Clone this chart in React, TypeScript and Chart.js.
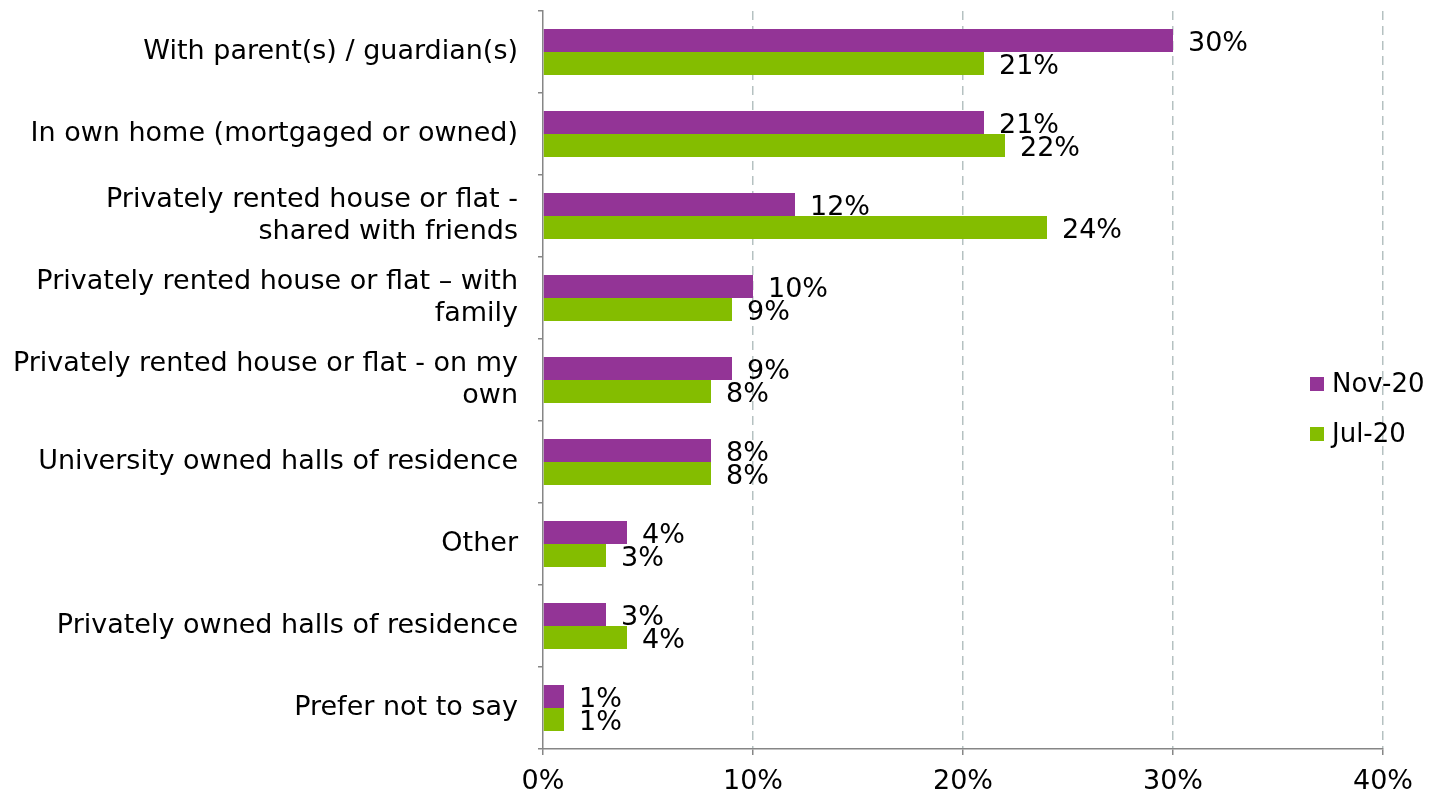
import React, { useEffect, useRef } from "react";
import { Chart, registerables } from "chart.js";

Chart.register(...registerables);

const categories: (string | string[])[] = [
  "With parent(s) / guardian(s)",
  "In own home (mortgaged or owned)",
  ["Privately rented house or flat -", "shared with friends"],
  ["Privately rented house or flat – with", "family"],
  ["Privately rented house or flat - on my", "own"],
  "University owned halls of residence",
  "Other",
  "Privately owned halls of residence",
  "Prefer not to say",
];
const nov20 = [30, 21, 12, 10, 9, 8, 4, 3, 1];
const jul20 = [21, 22, 24, 9, 8, 8, 3, 4, 1];
const seriesNames = ["Nov-20", "Jul-20"];
const seriesColors = ["#933496", "#84bd00"];
const xTicks = [0, 10, 20, 30, 40];

const FONT = "'DejaVu Sans', Verdana, sans-serif";

const valueLabels = {
  id: "valueLabels",
  afterDatasetsDraw(chart: any) {
    const ctx = chart.ctx;
    ctx.save();
    ctx.font = `27px ${FONT}`;
    ctx.fillStyle = "#000";
    ctx.textAlign = "left";
    ctx.textBaseline = "middle";
    chart.data.datasets.forEach((ds: any, di: number) => {
      const meta = chart.getDatasetMeta(di);
      meta.data.forEach((el: any, i: number) => {
        ctx.fillText(ds.data[i] + "%", el.x + 15, el.y + 3);
      });
    });
    ctx.restore();
  },
};

const sideLegend = {
  id: "sideLegend",
  afterDraw(chart: any) {
    const ctx = chart.ctx;
    const ca = chart.chartArea;
    const mid = (ca.top + ca.bottom) / 2;
    const x = ca.right - 73;
    ctx.save();
    ctx.font = `26px ${FONT}`;
    ctx.textAlign = "left";
    ctx.textBaseline = "middle";
    seriesNames.forEach((name, i) => {
      const cy = mid + 4 + i * 50;
      ctx.fillStyle = seriesColors[i];
      ctx.fillRect(x, cy - 7, 14, 14);
      ctx.fillStyle = "#000";
      ctx.fillText(name, x + 22, cy + 1);
    });
    ctx.restore();
  },
};

export default function App() {
  const ref = useRef<HTMLCanvasElement | null>(null);
  useEffect(() => {
    document.body.style.margin = "0";
    if (!ref.current) return;
    const chart = new Chart(ref.current, {
      type: "bar",
      data: {
        labels: categories,
        datasets: [
          { label: seriesNames[0], data: nov20, backgroundColor: seriesColors[0], categoryPercentage: 0.561, barPercentage: 1 },
          { label: seriesNames[1], data: jul20, backgroundColor: seriesColors[1], categoryPercentage: 0.561, barPercentage: 1 },
        ],
      },
      options: {
        indexAxis: "y",
        animation: false,
        responsive: false,
        maintainAspectRatio: false,
        layout: { padding: { top: 11, right: 49, left: 0, bottom: 0 } },
        plugins: { legend: { display: false }, tooltip: { enabled: false } },
        scales: {
          x: {
            min: 0,
            max: 40,
            afterBuildTicks: (s: any) => {
              s.ticks = xTicks.map((v) => ({ value: v }));
            },
            afterFit: (s: any) => {
              s.height = 54;
              s.paddingLeft = 0;
              s.paddingRight = 0;
            },
            ticks: {
              callback: (v: any) => v + "%",
              color: "#000",
              font: { family: FONT, size: 27 },
              padding: 11,
              maxRotation: 0,
            },
            grid: {
              color: (c: any) => (c.tick && c.tick.value === 0 ? "rgba(0,0,0,0)" : "#b5c1c1"),
              lineWidth: 1.5,
              tickLength: 6,
              tickColor: "#868686",
              tickWidth: 1.5,
            },
            border: { color: "#868686", width: 1.5, dash: [9, 6] },
          },
          y: {
            afterFit: (s: any) => {
              s.width = 543;
              s.paddingTop = 0;
              s.paddingBottom = 0;
            },
            ticks: {
              color: "#000",
              font: { family: FONT, size: 27, lineHeight: 32 / 27 },
              padding: 20,
              autoSkip: false,
            },
            grid: {
              offset: true,
              drawOnChartArea: false,
              tickLength: 5,
              color: "#868686",
              lineWidth: 1.5,
            },
            border: { color: "#868686", width: 1.5 },
          },
        },
      },
      plugins: [valueLabels, sideLegend],
    } as any);
    return () => chart.destroy();
  }, []);
  return (
    <div style={{ width: 1432, height: 803 }}>
      <canvas ref={ref} width={1432} height={803} style={{ display: "block" }} />
    </div>
  );
}
